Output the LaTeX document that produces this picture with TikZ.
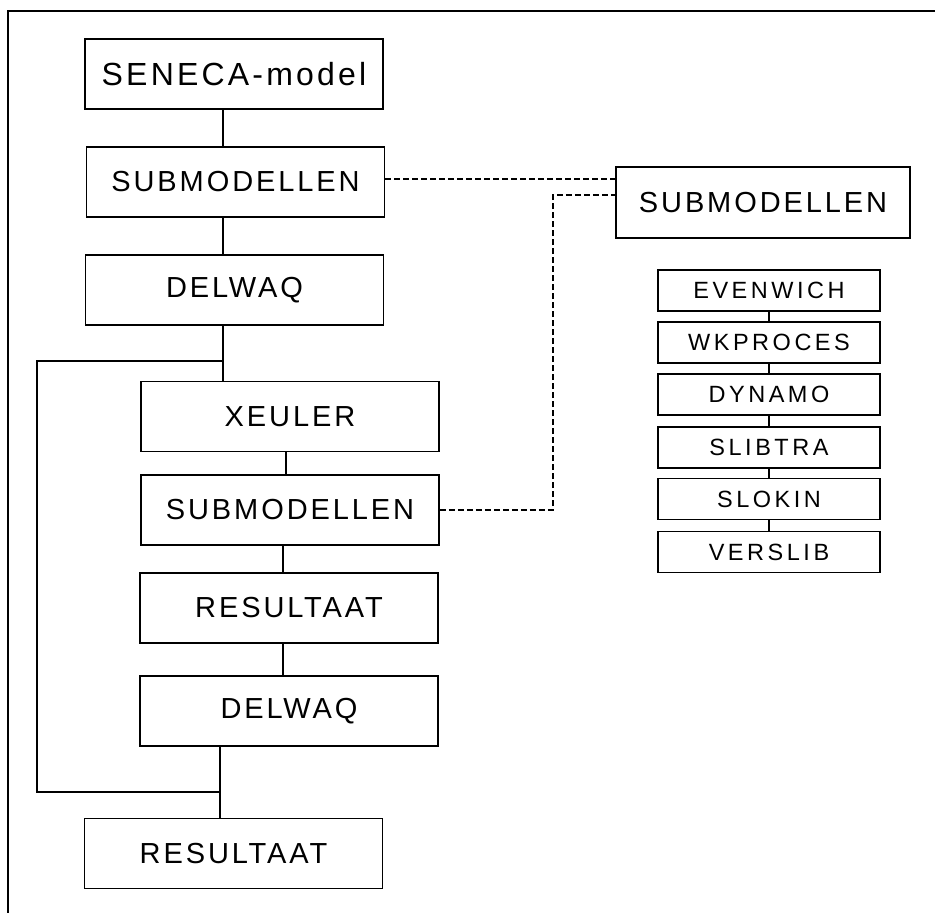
\documentclass[tikz,border=0pt]{standalone}
\usepackage{fontspec}
\setmainfont{Liberation Sans}
\newfontfamily\boxfont[LetterSpace=10]{Liberation Sans}
\newfontfamily\smallfont[LetterSpace=15]{Liberation Sans}
\begin{document}
\begin{tikzpicture}[x=1pt,y=1pt,
  bigbox/.style={draw, line width=1.6pt, inner sep=0pt, minimum width=298pt, minimum height=70pt,
    font=\boxfont\fontsize{29}{34}\selectfont},
  smallbox/.style={draw, line width=1.6pt, inner sep=0pt, minimum width=222pt, minimum height=41pt,
    font=\smallfont\fontsize{23.5}{28}\selectfont},
  link/.style={line width=1.4pt},
  dlink/.style={line width=1.3pt, dash pattern=on 6pt off 3pt},
  frame/.style={line width=1.4pt}]
\useasboundingbox (0,0) rectangle (935,-913);
% frame (top and left only)
\coordinate (ftl) at (8,-11);
\coordinate (ftr) at (935,-11);
\coordinate (fbl) at (8,-913);
\draw[frame] (ftr) -- (ftl) -- (fbl);
% left column
\node[bigbox, font=\boxfont\fontsize{32}{38}\selectfont] (seneca) at (234,-74) {SENECA-model};
\node[bigbox] (sub1) at (235.5,-182) {SUBMODELLEN};
\node[bigbox] (delwaq1) at (234.5,-290) {DELWAQ};
\node[bigbox] (xeuler) at (290,-416.5) {XEULER};
\node[bigbox] (sub2) at (290,-510) {SUBMODELLEN};
\node[bigbox] (res1) at (289,-608) {RESULTAAT};
\node[bigbox] (delwaq2) at (289,-711) {DELWAQ};
\node[bigbox] (res2) at (233.5,-853.5) {RESULTAAT};
% right column
\node[bigbox, minimum width=294pt, minimum height=71pt] (subr) at (763,-202.5) {SUBMODELLEN};
\node[smallbox] (s1) at (769,-290.5) {EVENWICH};
\node[smallbox] (s2) at (769,-342.5) {WKPROCES};
\node[smallbox] (s3) at (769,-394.5) {DYNAMO};
\node[smallbox] (s4) at (769,-447.5) {SLIBTRA};
\node[smallbox] (s5) at (769,-499) {SLOKIN};
\node[smallbox] (s6) at (769,-552) {VERSLIB};
% spine coordinates
\coordinate (spA) at (223,0);
\coordinate (spB) at (286,0);
\coordinate (spC) at (283,0);
\coordinate (spD) at (220,0);
\coordinate (loopL) at (37,0);
\coordinate (jTop) at (0,-361);
\coordinate (jBot) at (0,-792);
\coordinate (dashX) at (553,0);
% connectors
\draw[link] (seneca.south -| spA) -- (sub1.north -| spA);
\draw[link] (sub1.south -| spA) -- (delwaq1.north -| spA);
\draw[link] (delwaq1.south -| spA) -- (xeuler.north -| spA);
\draw[link] (jTop -| spA) -- (jTop -| loopL) -- (jBot -| loopL) -- (jBot -| spD);
\draw[link] (xeuler.south -| spB) -- (sub2.north -| spB);
\draw[link] (sub2.south -| spC) -- (res1.north -| spC);
\draw[link] (res1.south -| spC) -- (delwaq2.north -| spC);
\draw[link] (delwaq2.south -| spD) -- (res2.north -| spD);
\foreach \a/\b in {s1/s2,s2/s3,s3/s4,s4/s5,s5/s6}
  \draw[link] (\a.south) -- (\b.north);
% dashed links
\draw[dlink] (sub1.east |- 0,-179) -- (subr.west |- 0,-179);
\draw[dlink] (sub2.east) -- (sub2.east -| dashX) -- (dashX |- 0,-195) -- (subr.west |- 0,-195);
\end{tikzpicture}
\end{document}
